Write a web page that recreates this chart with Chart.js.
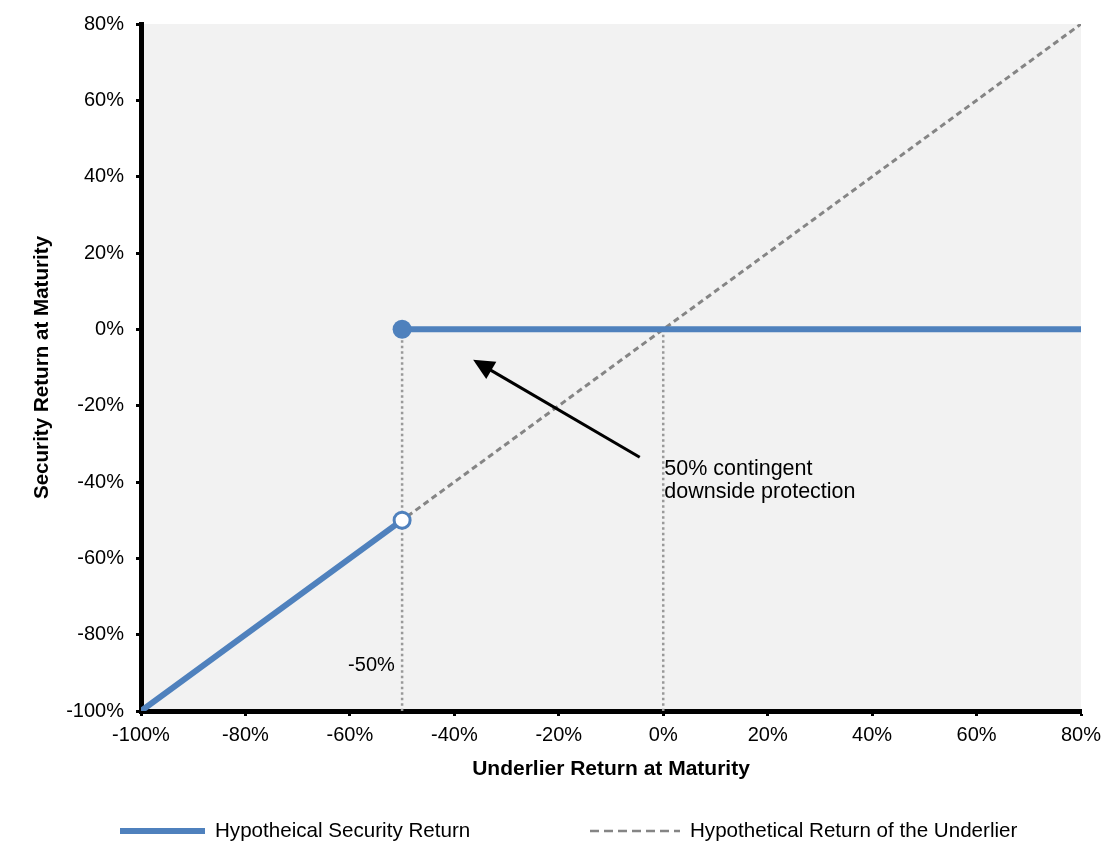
<!DOCTYPE html>
<html>
<head>
<meta charset="utf-8">
<script src="https://cdn.jsdelivr.net/npm/chart.js@4/dist/chart.umd.min.js"></script>
<style>
  html, body { margin: 0; padding: 0; background: #fff; }
  #wrap { width: 1115px; height: 860px; position: relative; }
</style>
</head>
<body>
<div id="wrap"><canvas id="chart"></canvas></div>
<script>
// Payoff data (percent)
const underlierX = [-100, 80];
const underlierY = [-100, 80];
const securityX = [-100, -50, -50, -50, 80];
const securityY = [-100, -50, null, 0, 0];
const barrierX = [-50, -50, null, 0, 0];
const barrierY = [0, -100, null, 0, -100];
const axisMin = -100;
const axisMax = 80;
const axisStep = 20;

const seriesLabels = ['Hypotheical Security Return', 'Hypothetical Return of the Underlier'];

// Annotation anchors in data units
const arrowFrom = { x: -4.5, y: -33.5 };
const arrowTo = { x: -36.4, y: -8 };
const noteLines = ['50% contingent', 'downside protection'];
const noteAt = { x: 0.2, y: -36.6 };
const barrierText = '-50%';
const barrierTextAt = { x: -51.4, y: -88 };

const blue = '#4f81bd';
const grey = '#858585';

const toXY = (xs, ys) => xs.map((x, i) => ({ x: x, y: ys[i] }));

Chart.defaults.font.family = '"Liberation Sans", Arial, sans-serif';
Chart.defaults.font.size = 20;
Chart.defaults.color = '#000';

// Grey plotting area
const plotBackground = {
  id: 'plotBackground',
  beforeDraw(chart) {
    const { ctx, chartArea: a } = chart;
    ctx.save();
    ctx.fillStyle = '#f2f2f2';
    ctx.fillRect(a.left, a.top, a.right - a.left, a.bottom - a.top);
    ctx.restore();
  },
};

// Arrow + text notes
const notes = {
  id: 'notes',
  afterDatasetsDraw(chart) {
    const { ctx, scales: { x, y } } = chart;
    const x1 = x.getPixelForValue(arrowFrom.x), y1 = y.getPixelForValue(arrowFrom.y);
    const x2 = x.getPixelForValue(arrowTo.x), y2 = y.getPixelForValue(arrowTo.y);
    const ang = Math.atan2(y2 - y1, x2 - x1);
    const head = 21, half = 10;
    ctx.save();
    ctx.strokeStyle = '#000';
    ctx.fillStyle = '#000';
    ctx.lineWidth = 3;
    ctx.beginPath();
    ctx.moveTo(x1, y1);
    ctx.lineTo(x2 - Math.cos(ang) * head * 0.8, y2 - Math.sin(ang) * head * 0.8);
    ctx.stroke();
    ctx.beginPath();
    ctx.moveTo(x2, y2);
    ctx.lineTo(x2 - Math.cos(ang) * head - Math.sin(ang) * half, y2 - Math.sin(ang) * head + Math.cos(ang) * half);
    ctx.lineTo(x2 - Math.cos(ang) * head + Math.sin(ang) * half, y2 - Math.sin(ang) * head - Math.cos(ang) * half);
    ctx.closePath();
    ctx.fill();

    ctx.font = '21.5px "Liberation Sans", Arial, sans-serif';
    ctx.textBaseline = 'middle';
    ctx.textAlign = 'left';
    const nx = x.getPixelForValue(noteAt.x), ny = y.getPixelForValue(noteAt.y);
    noteLines.forEach((t, i) => ctx.fillText(t, nx, ny + i * 23));
    ctx.font = '20px "Liberation Sans", Arial, sans-serif';
    ctx.textAlign = 'right';
    ctx.fillText(barrierText, x.getPixelForValue(barrierTextAt.x), y.getPixelForValue(barrierTextAt.y));
    ctx.restore();
  },
};

// Legend spread across the bottom like the original
const wideLegend = {
  id: 'wideLegend',
  afterDraw(chart, args, opts) {
    const { ctx } = chart;
    const ds = chart.data.datasets;
    ctx.save();
    ctx.font = '20.6px "Liberation Sans", Arial, sans-serif';
    ctx.textBaseline = 'middle';
    ctx.fillStyle = '#000';
    opts.items.forEach(item => {
      const d = ds[item.dataset];
      ctx.strokeStyle = d.borderColor;
      ctx.lineWidth = item.width;
      ctx.setLineDash(item.dash);
      ctx.beginPath();
      ctx.moveTo(item.x, opts.y);
      ctx.lineTo(item.x + item.len, opts.y);
      ctx.stroke();
      ctx.setLineDash([]);
      ctx.fillText(d.label, item.x + item.len + 10, opts.y);
    });
    ctx.restore();
  },
};

const pctTick = v => v + '%';

new Chart(document.getElementById('chart'), {
  type: 'line',
  data: {
    datasets: [
      {
        label: seriesLabels[0],
        data: toXY(securityX, securityY),
        borderColor: blue,
        borderWidth: 6,
        spanGaps: false,
        pointRadius: c => (c.dataIndex === 1 ? 8 : c.dataIndex === 3 ? 9.5 : 0),
        pointBackgroundColor: c => (c.dataIndex === 1 ? '#fff' : blue),
        pointBorderColor: blue,
        pointBorderWidth: c => (c.dataIndex === 1 ? 3 : 0),
        order: 0,
      },
      {
        label: seriesLabels[1],
        data: toXY(underlierX, underlierY),
        borderColor: grey,
        borderWidth: 3,
        borderDash: [6, 4],
        pointRadius: 0,
        order: 1,
      },
      {
        label: 'barrier',
        data: toXY(barrierX, barrierY),
        borderColor: '#999999',
        borderWidth: 2.5,
        borderDash: [2.5, 3],
        spanGaps: false,
        pointRadius: 0,
        order: 2,
      },
    ],
  },
  options: {
    responsive: true,
    maintainAspectRatio: false,
    animation: false,
    layout: { padding: { top: 21, right: 34, bottom: 78, left: 30 } },
    plugins: {
      legend: { display: false },
      tooltip: { enabled: false },
      wideLegend: {
        y: 831,
        items: [
          { dataset: 0, x: 120, len: 85, width: 6, dash: [] },
          { dataset: 1, x: 590, len: 90, width: 2.5, dash: [9, 5] },
        ],
      },
    },
    scales: {
      x: {
        type: 'linear',
        min: axisMin,
        max: axisMax,
        ticks: { stepSize: axisStep, callback: pctTick, padding: 7, maxRotation: 0 },
        grid: { drawOnChartArea: false, drawTicks: true, tickLength: 5, tickWidth: 3, tickColor: '#000' },
        border: { display: true, color: '#000', width: 5 },
        title: { display: true, text: 'Underlier Return at Maturity', font: { weight: 'bold', size: 21 }, padding: 0 },
        afterFit: s => { s.height = 71; },
      },
      y: {
        type: 'linear',
        min: axisMin,
        max: axisMax,
        ticks: { stepSize: axisStep, callback: pctTick, padding: 12 },
        grid: { drawOnChartArea: false, drawTicks: true, tickLength: 5, tickWidth: 3, tickColor: '#000' },
        border: { display: true, color: '#000', width: 5 },
        title: { display: true, text: 'Security Return at Maturity', font: { weight: 'bold', size: 20.6 }, padding: 0 },
        afterFit: s => { s.width = 111; },
      },
    },
  },
  plugins: [plotBackground, notes, wideLegend],
});
</script>
</body>
</html>
